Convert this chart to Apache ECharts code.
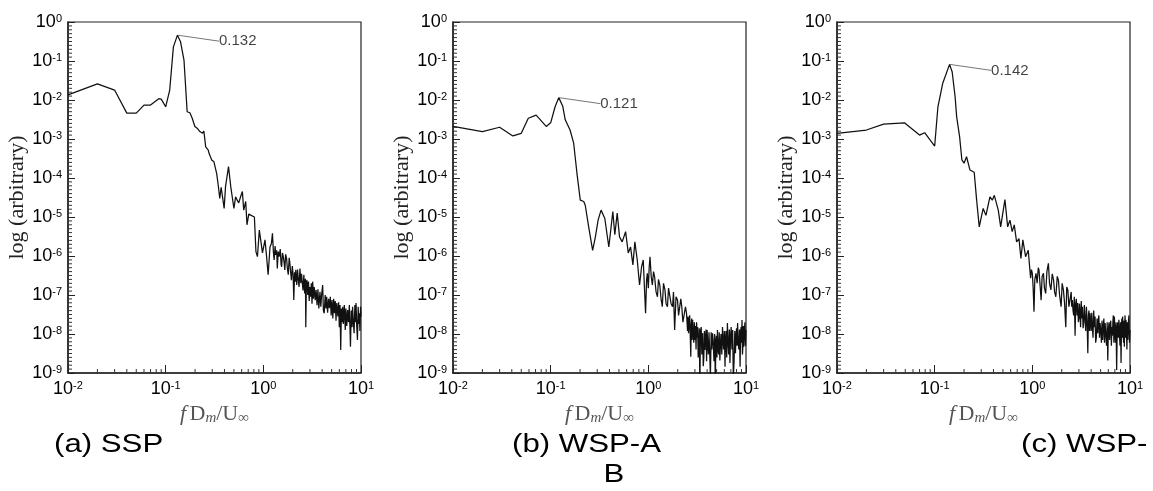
<!DOCTYPE html>
<html>
<head>
<meta charset="utf-8">
<script src="https://cdn.jsdelivr.net/npm/echarts@6/dist/echarts.min.js"></script>
<style>
  html, body { margin: 0; padding: 0; background: #fff; }
  #myChart { width: 1153px; height: 491px; }
</style>
</head>
<body>
<div id="myChart"></div>
<script>
// spectra: [fD/U, amplitude]
var sspData = [
  [0.01, 1.35e-2], [0.02, 2.6e-2], [0.03, 1.8e-2], [0.04, 4.6e-3], [0.05, 4.6e-3], [0.06, 7.4e-3],
  [0.07, 7.4e-3], [0.085, 1.08e-2], [0.09, 1.05e-2], [0.1, 6.7e-3], [0.11, 1.8e-2], [0.12, 0.23],
  [0.132, 0.46], [0.142, 0.31], [0.154, 0.106], [0.166, 5.0e-3], [0.177, 4.7e-3], [0.187, 3.4e-3],
  [0.199, 2.1e-3], [0.21, 1.9e-3], [0.224, 1.55e-3], [0.239, 1.4e-3], [0.246, 1.6e-3], [0.257, 6.3e-4],
  [0.273, 5.2e-4], [0.278, 4.3e-4], [0.296, 2.9e-4], [0.312, 2.6e-4], [0.32, 2.4e-4], [0.333, 1.3e-4],
  [0.345, 6.6e-5], [0.358, 3.0e-5], [0.37, 5.8e-5], [0.397, 1.66e-5], [0.41, 6e-5], [0.44, 1.95e-4],
  [0.464, 6e-5], [0.48, 3.3e-5], [0.5, 1.66e-5], [0.52, 3.3e-5], [0.54, 2.7e-5], [0.56, 2.3e-5],
  [0.585, 3.3e-5], [0.61, 4.5e-5], [0.63, 1.5e-5], [0.66, 2.5e-5], [0.68, 6.3e-6], [0.71, 1.2e-5],
  [0.75, 1.1e-5], [0.78, 1.2e-5], [0.81, 1.0e-5], [0.84, 1.3e-6], [0.87, 9.6e-7], [0.91, 4.6e-6],
  [0.94, 4.6e-6], [0.98, 1.2e-6], [1.0, 1.2e-6], [1.04, 2.6e-6], [1.08, 9.6e-7], [1.12, 3.3e-7],
  [1.17, 1.7e-6], [1.21, 2.1e-6], [1.24, 3.8e-6], [1.27, 1.2e-6], [1.29, 7.9e-7], [1.32, 1.8e-6],
  [1.34, 1.07e-6], [1.37, 1.4e-6], [1.39, 4.8e-7], [1.42, 1.3e-6], [1.45, 9.6e-7], [1.49, 1.5e-6],
  [1.52, 6e-7], [1.54, 5.3e-7], [1.57, 1.2e-6], [1.6, 9.6e-7], [1.63, 7e-7], [1.66, 4.4e-7],
  [1.69, 1.1e-6], [1.73, 8.7e-7], [1.76, 5e-7], [1.8, 3.3e-7], [1.84, 9e-7], [1.87, 6.5e-7],
  [1.9, 4e-7], [1.94, 2.4e-7], [1.98, 5.5e-7], [2.02, 3.2e-7], [2.05, 7.4e-8], [2.09, 3.8e-7],
  [2.12, 2.2e-7], [2.15, 4.4e-7], [2.2, 1.8e-7], [2.24, 4.5e-7], [2.27, 2.9e-7], [2.32, 1.6e-7],
  [2.37, 4.8e-7], [2.42, 2e-7], [2.46, 3.5e-7], [2.5, 2.2e-7], [2.55, 1.3e-7], [2.6, 3.3e-7],
  [2.65, 1.1e-7], [2.7, 2.6e-7], [2.72, 1.5e-8], [2.76, 2.1e-7], [2.8, 2.4e-7], [2.85, 1e-7],
  [2.9, 2.2e-7], [2.95, 7e-8], [3.0, 1.6e-7], [3.05, 9e-8], [3.1, 2.0e-7], [3.15, 6e-8],
  [3.2, 2.2e-7], [3.26, 8e-8], [3.32, 1.6e-7], [3.4, 7.4e-8], [3.47, 1.35e-7], [3.55, 5.5e-8],
  [3.62, 1.4e-7], [3.7, 4.5e-8], [3.8, 1.2e-7], [3.88, 5e-8], [3.95, 1e-7], [4.05, 1.8e-7],
  [4.12, 4e-8], [4.2, 3.4e-8], [4.3, 1e-7], [4.38, 4.5e-8], [4.45, 9e-8], [4.55, 3.5e-8],
  [4.65, 8e-8], [4.75, 4.6e-8], [4.85, 9e-8], [4.95, 3e-8], [5.05, 7.4e-8], [5.15, 2.5e-8],
  [5.25, 8e-8], [5.35, 3.4e-8], [5.45, 7e-8], [5.55, 2.2e-8], [5.65, 6.2e-8], [5.8, 2.8e-8],
  [5.9, 6.5e-8], [6.0, 1.5e-8], [6.1, 5.5e-8], [6.2, 3.9e-9], [6.3, 4.5e-8], [6.4, 2e-8],
  [6.5, 5e-8], [6.6, 1.8e-8], [6.75, 5.5e-8], [6.9, 1.26e-8], [7.0, 4.5e-8], [7.15, 1.6e-8],
  [7.3, 4.1e-8], [7.45, 2e-8], [7.6, 5.5e-8], [7.8, 4.7e-9], [7.95, 4e-8], [8.1, 1.5e-8],
  [8.2, 5e-8], [8.35, 2e-8], [8.5, 1.05e-8], [8.65, 5.5e-8], [8.8, 2e-8], [8.9, 6.2e-8],
  [9.05, 1.5e-8], [9.2, 7e-9], [9.35, 5e-8], [9.5, 1.8e-8], [9.6, 3.4e-8], [9.75, 1.2e-8],
  [9.9, 5e-8], [10, 2.8e-8]
];

var wspAData = [
  [0.01, 2.1e-3], [0.02, 1.55e-3], [0.03, 2.0e-3], [0.041, 1.2e-3], [0.05, 1.4e-3], [0.059, 3.4e-3],
  [0.071, 4.1e-3], [0.09, 2.1e-3], [0.1, 2.6e-3], [0.111, 6.7e-3], [0.121, 1.15e-2], [0.133, 6.9e-3],
  [0.141, 3.1e-3], [0.158, 1.7e-3], [0.172, 7.8e-4], [0.186, 1.3e-4], [0.201, 2.7e-5], [0.218, 2.5e-5],
  [0.226, 2.0e-5], [0.245, 5.6e-6], [0.269, 1.4e-6], [0.287, 3.1e-6], [0.306, 8.3e-6], [0.328, 1.5e-5],
  [0.358, 9.3e-6], [0.394, 1.7e-6], [0.433, 1.37e-5], [0.454, 3.5e-6], [0.48, 1.26e-5], [0.507, 3.1e-6],
  [0.54, 2.3e-6], [0.585, 4.2e-6], [0.623, 1.2e-6], [0.658, 1.7e-6], [0.695, 5.9e-7], [0.728, 2.3e-6],
  [0.77, 7.9e-7], [0.813, 1.8e-7], [0.853, 5.3e-7], [0.887, 7.9e-7], [0.937, 3.4e-8], [0.96, 2.5e-7],
  [0.977, 3.6e-7], [1.0, 1.5e-7], [1.02, 5e-7], [1.04, 9.6e-7], [1.07, 3e-7], [1.1, 1.8e-7],
  [1.13, 4e-7], [1.16, 2.9e-7], [1.2, 1.2e-7], [1.24, 9e-8], [1.27, 2.5e-7], [1.31, 1.8e-7],
  [1.35, 8e-8], [1.39, 5e-8], [1.43, 2e-7], [1.48, 1.35e-7], [1.52, 6e-8], [1.57, 5e-8],
  [1.61, 1.5e-7], [1.66, 1.6e-7], [1.71, 6e-8], [1.77, 5e-8], [1.81, 1.2e-7], [1.86, 1.26e-8],
  [1.92, 9e-8], [1.99, 7.4e-8], [2.04, 3e-8], [2.1, 2.8e-8], [2.15, 8e-8], [2.2, 5e-8],
  [2.26, 2e-8], [2.33, 1.9e-8], [2.4, 5e-8], [2.46, 3.4e-8], [2.52, 1.2e-8], [2.55, 2.8e-8],
  [2.58, 1.05e-8], [2.62, 2.2e-8], [2.65, 3e-8], [2.69, 8e-9], [2.72, 2.6e-9], [2.75, 1.8e-8],
  [2.78, 2.5e-8], [2.81, 7e-9], [2.84, 2.3e-8], [2.88, 1.2e-8], [2.92, 6e-9], [2.96, 2e-8],
  [3.0, 7e-9], [3.04, 1.6e-8], [3.08, 4e-9], [3.12, 2e-8], [3.16, 8e-9], [3.2, 1.5e-8],
  [3.24, 2.5e-9], [3.28, 4e-9], [3.32, 1.4e-8], [3.37, 5e-10], [3.42, 1.2e-8], [3.48, 1.5e-8],
  [3.53, 3e-9], [3.57, 9e-9], [3.6, 1.05e-8], [3.65, 1.5e-9], [3.7, 2.5e-9], [3.75, 1.2e-8],
  [3.8, 3.9e-9], [3.85, 8e-9], [3.9, 1.3e-8], [3.95, 2e-9], [4.0, 1.26e-8], [4.06, 5e-9],
  [4.12, 3e-9], [4.18, 1.1e-8], [4.25, 3.2e-9], [4.32, 8e-10], [4.4, 1.1e-8], [4.47, 4e-9],
  [4.55, 1.05e-8], [4.62, 6e-9], [4.7, 2e-9], [4.78, 1e-8], [4.85, 5e-10], [4.92, 7e-9],
  [4.98, 9e-9], [5.04, 2.5e-9], [5.1, 1.26e-8], [5.18, 4e-9], [5.25, 3e-9], [5.32, 1.1e-8],
  [5.4, 2.1e-9], [5.48, 6e-9], [5.55, 1e-8], [5.65, 3e-9], [5.75, 1.5e-8], [5.82, 7e-9],
  [5.9, 4e-9], [6.0, 1.2e-8], [6.1, 1.45e-9], [6.18, 8e-9], [6.25, 1.2e-8], [6.35, 2.5e-9],
  [6.45, 1.9e-8], [6.55, 6e-9], [6.65, 3e-9], [6.75, 1.3e-8], [6.85, 1.8e-9], [6.95, 9e-9],
  [7.05, 1.5e-8], [7.18, 4e-9], [7.3, 1.26e-8], [7.42, 7e-10], [7.55, 2e-9], [7.68, 1.2e-8],
  [7.8, 3.2e-9], [7.9, 9e-9], [8.0, 1.4e-8], [8.1, 5e-9], [8.2, 1.9e-8], [8.32, 6e-9],
  [8.45, 4e-9], [8.58, 1.3e-8], [8.7, 1.45e-9], [8.8, 1e-8], [8.9, 1.5e-8], [9.0, 6e-9],
  [9.1, 2.3e-8], [9.2, 3e-9], [9.3, 5e-9], [9.4, 1.6e-8], [9.5, 4.7e-9], [9.62, 1.2e-8],
  [9.75, 2e-8], [9.88, 5e-9], [10, 1.26e-8]
];

var wspBData = [
  [0.01, 1.4e-3], [0.02, 1.7e-3], [0.03, 2.4e-3], [0.049, 2.6e-3], [0.07, 1.26e-3], [0.079, 1.45e-3],
  [0.1, 6.6e-4], [0.108, 6.7e-3], [0.121, 2.7e-2], [0.142, 8.2e-2], [0.151, 5.3e-2], [0.162, 1.2e-2],
  [0.168, 3.7e-3], [0.18, 1.15e-3], [0.19, 2.9e-4], [0.2, 2.4e-4], [0.212, 3.5e-4], [0.23, 1.6e-4],
  [0.254, 1.4e-4], [0.269, 2.7e-5], [0.286, 5.6e-6], [0.314, 1.66e-5], [0.335, 1.1e-5], [0.368, 3.3e-5],
  [0.389, 2.7e-5], [0.408, 3.6e-5], [0.448, 1.5e-5], [0.474, 5.6e-6], [0.524, 2.8e-5], [0.559, 5.6e-6],
  [0.59, 8.3e-6], [0.622, 4.2e-6], [0.653, 6.3e-6], [0.69, 2.3e-6], [0.73, 2.8e-6], [0.764, 8.7e-7],
  [0.8, 2.6e-6], [0.853, 9.6e-7], [0.908, 1.4e-6], [0.96, 2.7e-7], [0.98, 4.5e-7], [1.0, 3.6e-7],
  [1.02, 1.5e-7], [1.04, 3.7e-8], [1.06, 2.5e-7], [1.09, 3.6e-7], [1.12, 2e-7], [1.15, 5e-7],
  [1.17, 4.4e-7], [1.2, 1.8e-7], [1.23, 7.4e-8], [1.26, 3e-7], [1.3, 3.6e-7], [1.33, 1.5e-7],
  [1.37, 1.1e-7], [1.41, 4e-7], [1.46, 6.5e-7], [1.5, 2e-7], [1.55, 1.35e-7], [1.6, 3.5e-7],
  [1.65, 2.4e-7], [1.69, 1.2e-7], [1.74, 9e-8], [1.8, 3e-7], [1.85, 2.4e-7], [1.9, 1e-7],
  [1.97, 5e-8], [2.02, 2e-7], [2.08, 1.35e-7], [2.14, 6e-8], [2.2, 1.5e-8], [2.25, 1.6e-7],
  [2.31, 1.35e-7], [2.37, 5e-8], [2.44, 5e-8], [2.5, 1.2e-7], [2.53, 5e-8], [2.57, 7.4e-8],
  [2.61, 4e-8], [2.65, 3e-8], [2.69, 9e-8], [2.74, 9e-9], [2.78, 6e-8], [2.82, 8e-8],
  [2.87, 3e-8], [2.92, 6.2e-8], [2.96, 2e-8], [3.0, 2.5e-8], [3.04, 6e-8], [3.08, 3.4e-8],
  [3.12, 1.5e-8], [3.17, 7e-8], [3.21, 2.5e-8], [3.26, 5e-8], [3.31, 1.4e-8], [3.36, 2e-8],
  [3.41, 5.5e-8], [3.47, 2.3e-8], [3.52, 1.2e-8], [3.58, 5e-8], [3.64, 1.8e-8], [3.7, 3.2e-9],
  [3.75, 3e-8], [3.8, 4e-8], [3.85, 1.2e-8], [3.9, 3.4e-8], [3.95, 2e-8], [4.0, 1.2e-8],
  [4.06, 3.5e-8], [4.12, 1.5e-8], [4.18, 8e-9], [4.25, 4e-8], [4.32, 1.5e-8], [4.39, 2.8e-8],
  [4.45, 6e-9], [4.52, 8e-9], [4.6, 2.5e-8], [4.68, 1.05e-8], [4.74, 2.2e-8], [4.8, 3e-8],
  [4.87, 8e-9], [4.94, 1.9e-8], [5.02, 1.2e-8], [5.1, 6e-9], [5.17, 2.2e-8], [5.25, 7e-9],
  [5.32, 1.5e-8], [5.4, 2.5e-8], [5.48, 6e-9], [5.56, 1.9e-8], [5.65, 1e-8], [5.75, 5e-9],
  [5.84, 2e-8], [5.92, 2.1e-9], [6.0, 1.2e-8], [6.1, 2e-8], [6.18, 7e-9], [6.25, 1.5e-8],
  [6.35, 2.2e-8], [6.45, 5e-9], [6.52, 1.5e-8], [6.6, 9e-9], [6.68, 2e-8], [6.75, 3e-8],
  [6.84, 6e-9], [6.92, 2.8e-8], [7.0, 1.2e-8], [7.1, 6e-9], [7.2, 2e-8], [7.3, 1.2e-9],
  [7.4, 1.5e-8], [7.5, 2e-8], [7.6, 8e-9], [7.7, 2.3e-8], [7.8, 1e-8], [7.9, 5e-9],
  [8.0, 2e-8], [8.1, 1.8e-9], [8.18, 1.5e-8], [8.25, 2.5e-8], [8.32, 8e-9], [8.4, 2.8e-8],
  [8.5, 1.2e-8], [8.6, 6e-9], [8.68, 2.2e-8], [8.75, 4.7e-9], [8.82, 1.5e-8], [8.9, 3e-8],
  [9.0, 8e-9], [9.1, 2.3e-8], [9.2, 1.2e-8], [9.3, 4e-9], [9.4, 2e-8], [9.5, 7e-9],
  [9.62, 1.8e-8], [9.75, 3e-8], [9.88, 6e-9], [10, 1.26e-8]
];

// marked peaks and their labels
var peakPoints = [[0.132, 0.46], [0.121, 1.15e-2], [0.142, 8.2e-2]];
var peakLabels = ['0.132', '0.121', '0.142'];

var captions = ['(a) SSP', '(b) WSP-A', 'B', '(c) WSP-'];
var xMinorTicks = [0.02, 0.03, 0.04, 0.05, 0.06, 0.07, 0.08, 0.09,
  0.2, 0.3, 0.4, 0.5, 0.6, 0.7, 0.8, 0.9, 2, 3, 4, 5, 6, 7, 8, 9];
// y minor ticks: ten even steps per decade on the log scale
var yMinorTicks = [];
for (var k = -9; k < 0; k++) {
  for (var j = 1; j < 10; j++) yMinorTicks.push(Math.pow(10, k + j / 10));
}

var panels = [sspData, wspAData, wspBData];
var gridLeft = [68, 453, 837];

var myChart = echarts.init(document.getElementById('myChart'), null, { renderer: 'canvas' });

function powLabel(v) {
  var e = Math.round(Math.log10(v));
  return '{b|10}{s|' + e + '}';
}
var powRich = {
  b: { fontSize: 18, fontFamily: 'Liberation Sans', color: '#000' },
  s: { fontSize: 11, fontFamily: 'Liberation Sans', color: '#000', verticalAlign: 'top', lineHeight: 12 }
};

function tickItem(dir, len) {
  return function (params, api) {
    var p = api.coord([api.value(0), api.value(1)]);
    var x2 = dir === 'x' ? p[0] : p[0] + len;
    var y2 = dir === 'x' ? p[1] - len : p[1];
    return { type: 'line', shape: { x1: p[0], y1: p[1], x2: x2, y2: y2 }, style: { stroke: '#333', lineWidth: 1 } };
  };
}

var grids = [], xAxes = [], yAxes = [], series = [];
for (var i = 0; i < 3; i++) {
  grids.push({ left: gridLeft[i], top: 22, width: 293, height: 351, show: true, borderColor: '#222', borderWidth: 1.2 });
  xAxes.push({
    type: 'log', logBase: 10, gridIndex: i, min: 0.01, max: 10,
    axisLine: { lineStyle: { color: '#222', width: 1.5 } },
    axisTick: { inside: true, length: 8, lineStyle: { color: '#222' } },
    splitLine: { show: false },
    axisLabel: { formatter: powLabel, rich: powRich, margin: 7 },
    name: '{i|f} {r|D}{sub|m}{r|/U}{sub|∞}',
    nameLocation: 'middle', nameGap: 29,
    nameTextStyle: {
      rich: {
        i: { fontSize: 22, fontFamily: 'Liberation Serif', fontStyle: 'italic', color: '#555' },
        r: { fontSize: 22, fontFamily: 'Liberation Serif', color: '#555' },
        sub: { fontSize: 15, fontFamily: 'Liberation Serif', fontStyle: 'italic', color: '#555', verticalAlign: 'bottom', padding: [8, 0, 0, 0] }
      }
    }
  });
  yAxes.push({
    type: 'log', logBase: 10, gridIndex: i, min: 1e-9, max: 1, interval: 1,
    axisLine: { lineStyle: { color: '#222', width: 1.5 } },
    axisTick: { inside: true, length: 7, lineStyle: { color: '#222' } },
    splitLine: { show: false },
    axisLabel: { formatter: powLabel, rich: powRich, margin: 6 },
    name: 'log (arbitrary)', nameLocation: 'middle', nameGap: 32,
    nameTextStyle: { fontSize: 22, fontFamily: 'Liberation Serif', color: '#222' }
  });
  series.push({
    type: 'line', xAxisIndex: i, yAxisIndex: i, data: panels[i],
    showSymbol: false, clip: true,
    lineStyle: { color: '#111', width: 1.25 }
  });
  // peak annotation with a leader line
  series.push({
    type: 'scatter', xAxisIndex: i, yAxisIndex: i, data: [peakPoints[i]],
    symbolSize: 1, itemStyle: { color: 'rgba(0,0,0,0)' },
    label: {
      show: true, position: 'right', distance: 5, formatter: peakLabels[i],
      fontSize: 15, fontFamily: 'Liberation Sans', color: '#111', padding: [0, 0, 0, 9]
    },
    labelLine: { show: true, lineStyle: { color: '#777', width: 1 } },
    labelLayout: { dx: 27, dy: 6 }
  });
  // log-spaced minor ticks on the x axis
  series.push({
    type: 'custom', xAxisIndex: i, yAxisIndex: i, silent: true,
    data: xMinorTicks.map(function (v) { return [v, 1e-9]; }),
    renderItem: tickItem('x', 4)
  });
  // dense minor ticks on the y axis
  series.push({
    type: 'custom', xAxisIndex: i, yAxisIndex: i, silent: true,
    data: yMinorTicks.map(function (v) { return [0.01, v]; }),
    renderItem: tickItem('y', 4)
  });
}

var capStyle = { font: '26px "Liberation Sans"', fill: '#000', verticalAlign: 'middle' };
function caption(text, x, y, align) {
  return { type: 'text', x: x, y: y, scaleX: 1.2, style: Object.assign({ text: text, align: align || 'left' }, capStyle) };
}

var option = {
  backgroundColor: '#fff',
  animation: false,
  grid: grids,
  xAxis: xAxes,
  yAxis: yAxes,
  series: series,
  graphic: [
    caption(captions[0], 54, 445),
    caption(captions[1], 512, 445),
    caption(captions[2], 614, 475, 'center'),
    caption(captions[3], 1021, 445)
  ]
};
myChart.setOption(option);
</script>
</body>
</html>
